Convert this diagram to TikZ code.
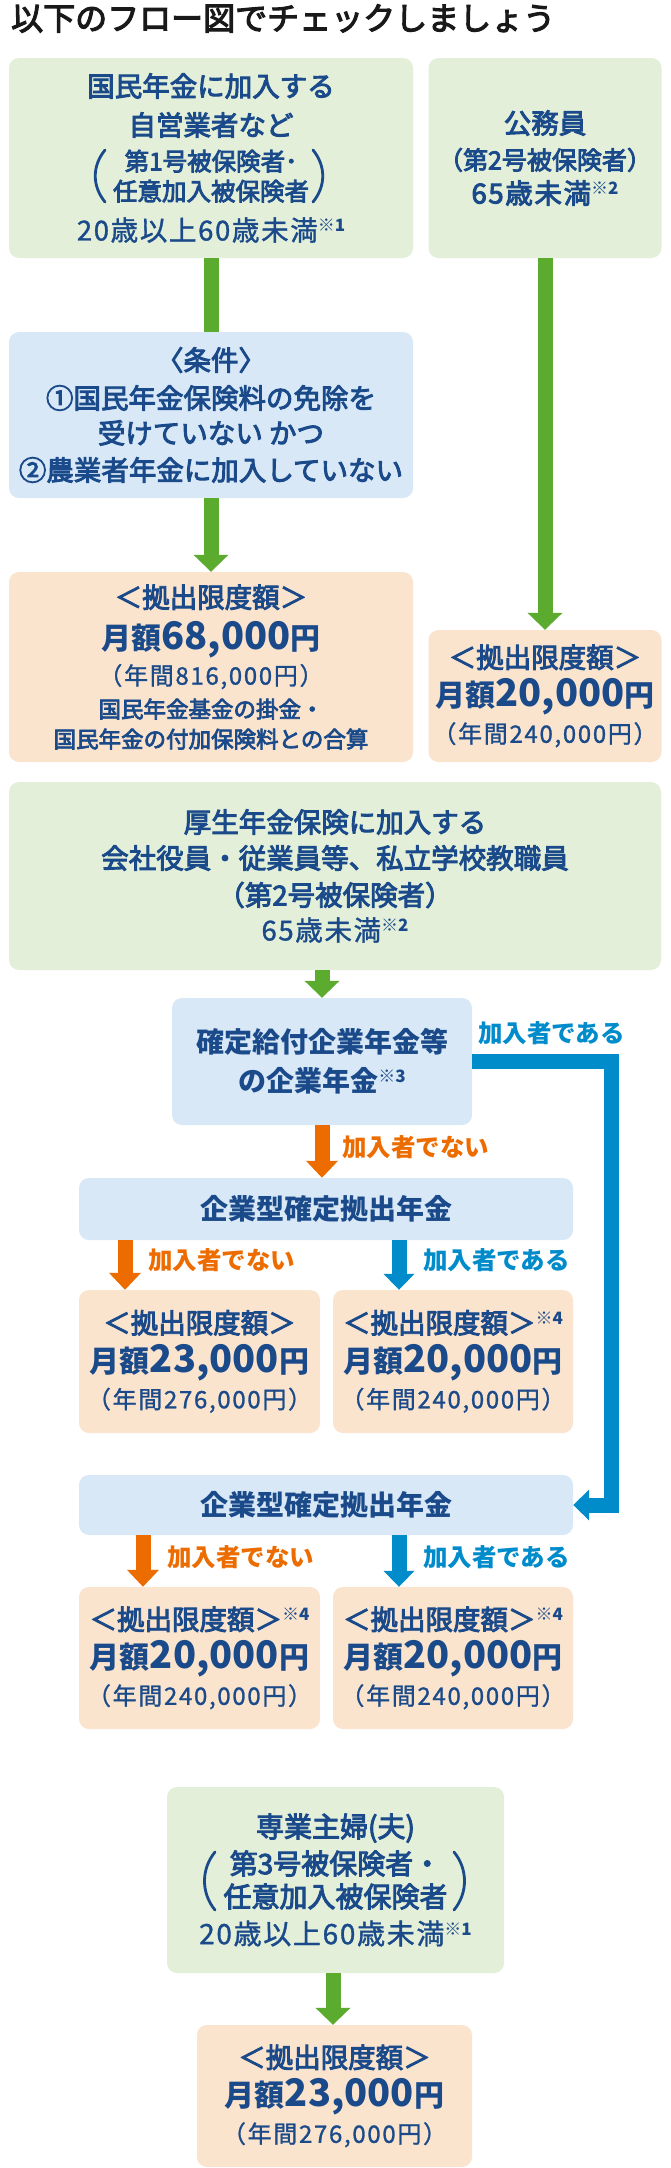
\documentclass[tikz,border=0pt]{standalone}
\usepackage{fontspec}
\setmainfont{Noto Sans CJK JP}
\newfontfamily\jpr{Noto Sans CJK JP}[FakeBold=1.2]
\newfontfamily\jpm{Noto Sans CJK JP}[FakeBold=3.4]
\newfontfamily\jpbase{Noto Sans CJK JP}
\newcommand\jpb{\jpbase\bfseries}
\usetikzlibrary{arrows.meta}
\definecolor{textblue}{HTML}{1A4A8A}
\definecolor{gfill}{HTML}{E3EFD9}
\definecolor{bfill}{HTML}{D8E8F7}
\definecolor{ofill}{HTML}{FBE4CD}
\definecolor{garr}{HTML}{5AAB2E}
\definecolor{oarr}{HTML}{EC6C00}
\definecolor{barr}{HTML}{008BCB}
\newcommand\nt[1]{\raisebox{9pt}{\jpbase\fontsize{17}{17}\selectfont ※\bfseries #1}}
\newcommand\amt[1]{{\jpb\fontsize{30}{36}\selectfont 月額{\fontsize{38}{36}\selectfont #1}円}}
\newcommand\ann[1]{{\jpr\fontsize{24}{30}\selectfont\addfontfeatures{LetterSpace=7}（年間#1円）}}
\newcommand\age[1]{{\jpr\addfontfeatures{LetterSpace=6}#1}}
\newcommand\lmt[3]{＜拠出限度額＞#3\\[3pt]\amt{#1}\\[0pt]\ann{#2}}
\begin{document}
\begin{tikzpicture}[x=1pt,y=-1pt,
  box/.style={rounded corners=10pt, inner sep=0pt, align=center, text=textblue,
    font=\jpm\fontsize{27.5}{36}\selectfont},
  gbox/.style={box, fill=gfill},
  bbox/.style={box, fill=bfill},
  obox/.style={box, fill=ofill},
  gstem/.style={draw=garr, line width=15pt},
  garrow/.style={draw=garr, line width=15pt, -{Triangle[width=34pt,length=17pt]}},
  oarrow/.style={draw=oarr, line width=15pt, -{Triangle[width=31pt,length=17pt]}},
  barrow/.style={draw=barr, line width=15pt, line join=miter, -{Triangle[width=30pt,length=16pt]}},
  olabel/.style={text=oarr, font=\jpb\fontsize{24.5}{28}\selectfont, anchor=west, inner sep=0pt},
  blabel/.style={text=barr, font=\jpb\fontsize{24.5}{28}\selectfont, anchor=west, inner sep=0pt},
  paren/.style={draw=textblue, line width=2.8pt, line cap=round},
  title/.style={anchor=west, inner sep=0pt, text=black!90, font=\jpm\fontsize{32}{36}\selectfont}
]
\useasboundingbox (0,0) rectangle (670,2168);
\fill[white] (0,0) rectangle (670,2168);

\node[title] (title) at (11,18.5) {以下のフロー図でチェックしましょう};

% top row
\node[gbox, minimum width=404pt, minimum height=200pt] (b1) at (211,158)
  {国民年金に加入する\\[3pt]自営業者など\\[-1pt]{\fontsize{24.5}{30}\selectfont 第1号被保険者･}\\[-6pt]{\fontsize{24.5}{30}\selectfont 任意加入被保険者}\\[4pt]\age{20歳以上60歳未満}\nt{1}};
\node[gbox, minimum width=233pt, minimum height=200pt] (b2) at (545,158)
  {公務員\\[0pt]{\fontsize{25}{30}\selectfont （第2号被保険者）}\\[-2pt]{\addfontfeatures{LetterSpace=6}65歳未満}\nt{2}};

\node[bbox, minimum width=404pt, minimum height=166pt] (cond) at (211,415)
  {〈条件〉\\[2pt]①国民年金保険料の免除を\\[-1pt]受けていない かつ\\[1pt]②農業者年金に加入していない};

\node[obox, minimum width=404pt, minimum height=190pt] (L1) at (211,667)
  {＜拠出限度額＞\\[6pt]\amt{68,000}\\[-1pt]\ann{816,000}\\[-3pt]{\fontsize{22.5}{28}\selectfont 国民年金基金の掛金・}\\[-6pt]{\fontsize{22.5}{28}\selectfont 国民年金の付加保険料との合算}};
\node[obox, minimum width=233pt, minimum height=132pt] (L2) at (545,696)
  {\lmt{20,000}{240,000}{}};

% second part
\node[gbox, minimum width=652pt, minimum height=188pt] (K) at (335,876)
  {厚生年金保険に加入する\\[0pt]会社役員・従業員等、私立学校教職員\\[1pt]（第2号被保険者）\\[-1pt]\age{65歳未満}\nt{2}};

\node[bbox, minimum width=300pt, minimum height=127pt, font=\jpb\fontsize{28}{36}\selectfont] (D) at (322,1061.5)
  {確定給付企業年金等\\[3pt]の企業年金\nt{3}};

\node[bbox, minimum width=494pt, minimum height=62pt, font=\jpb\fontsize{28}{36}\selectfont] (E1) at (326,1209)
  {企業型確定拠出年金};
\node[obox, minimum width=241pt, minimum height=143pt] (F1) at (199.5,1361.5)
  {\lmt{23,000}{276,000}{}};
\node[obox, minimum width=240pt, minimum height=143pt] (F2) at (453,1361.5)
  {\lmt{20,000}{240,000}{\nt{4}}};

\node[bbox, minimum width=494pt, minimum height=60pt, font=\jpb\fontsize{28}{36}\selectfont] (E2) at (326,1505)
  {企業型確定拠出年金};
\node[obox, minimum width=241pt, minimum height=142pt] (G1) at (199.5,1658)
  {\lmt{20,000}{240,000}{\nt{4}}};
\node[obox, minimum width=240pt, minimum height=142pt] (G2) at (453,1658)
  {\lmt{20,000}{240,000}{\nt{4}}};

% third part
\node[gbox, minimum width=337pt, minimum height=186pt, font=\jpm\fontsize{28}{36}\selectfont] (S) at (335.5,1880)
  {専業主婦(夫)\\[1pt]第3号被保険者・\\[-3pt]任意加入被保険者\\[1pt]\age{20歳以上60歳未満}\nt{1}};
\node[obox, minimum width=275pt, minimum height=142pt] (H) at (334.5,2096)
  {\lmt{23,000}{276,000}{}};

% big parentheses
\draw[paren] (105,150) .. controls (92,166) and (92,186) .. (105,202);
\draw[paren] (313,150) .. controls (326,166) and (326,186) .. (313,202);
\draw[paren] (215,1852) .. controls (201,1869) and (201,1893) .. (215,1910);
\draw[paren] (454,1852) .. controls (468,1869) and (468,1893) .. (454,1910);

% connectors
\coordinate (a1) at (125,0);
\coordinate (a2) at (399,0);
\coordinate (a3) at (143,0);
\coordinate (a5) at (333,0);
\coordinate (bx) at (611,0);

\draw[gstem] (b1.south) -- (cond.north);
\draw[garrow] (cond.south) -- (L1.north);
\draw[garrow] (b2.south) -- (b2.south |- L2.north);
\draw[garrow] (K.south -| D.north) -- (D.north);
\draw[oarrow] (D.south) -- (D.south |- E1.north);
\draw[barrow] (D.east) -- (D.east -| bx) -- (E2.east -| bx) -- (E2.east);
\draw[oarrow] (E1.south -| a1) -- (F1.north -| a1);
\draw[barrow] (E1.south -| a2) -- (F2.north -| a2);
\draw[oarrow] (E2.south -| a3) -- (G1.north -| a3);
\draw[barrow] (E2.south -| a2) -- (G2.north -| a2);
\draw[garrow] (S.south -| a5) -- (H.north -| a5);

% labels
\node[blabel] (l0) at (478,1033) {加入者である};
\node[olabel] (l1) at (342,1147) {加入者でない};
\node[olabel] (l2) at (148,1260) {加入者でない};
\node[blabel] (l3) at (423,1260) {加入者である};
\node[olabel] (l4) at (167,1557) {加入者でない};
\node[blabel] (l5) at (423,1557) {加入者である};
\end{tikzpicture}
\end{document}
